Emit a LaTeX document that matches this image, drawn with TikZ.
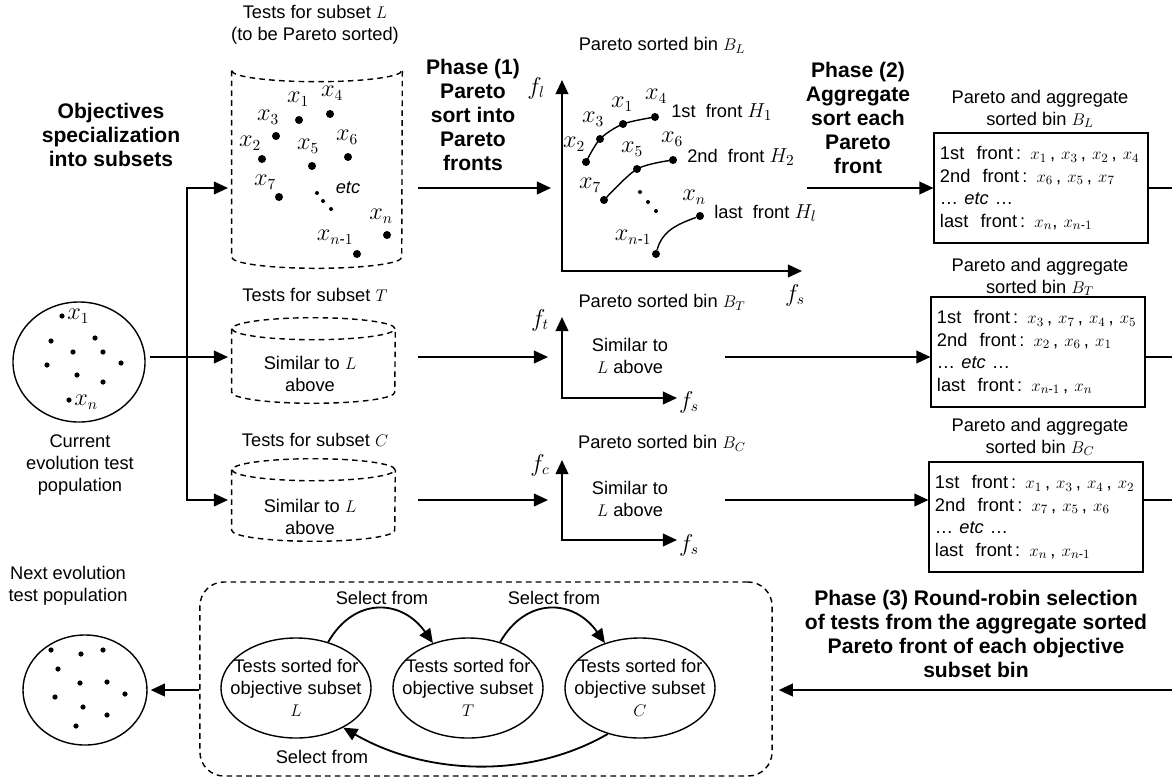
\documentclass[tikz,border=0pt]{standalone}
\usepackage{amsmath}
\usepackage{fontspec}
\setmainfont{Liberation Sans}
\usetikzlibrary{arrows.meta,positioning,shapes.geometric,calc}
\newcommand{\xnm}{x_{n\text{-}1}}

\tikzset{
  txt/.style={font=\fontsize{13}{15.5}\selectfont, align=center, inner sep=0pt},
  mlbl/.style={font=\fontsize{16}{18}\selectfont, inner sep=0pt},
  bold/.style={font=\fontsize{15}{17}\selectfont\bfseries, align=center, inner sep=0pt},
  arr/.style={line width=1.3pt, -{Triangle[length=10pt,width=9pt]}},
  conn/.style={line width=1.3pt},
  axes/.style={line width=1.3pt, {Triangle[length=10pt,width=9pt]}-{Triangle[length=10pt,width=9pt]}},
  bigdot/.style={circle, fill, inner sep=0pt, minimum size=0.2cm},
  popdot/.style={circle, fill, inner sep=0pt, minimum size=0.13cm},
  tinydot/.style={circle, fill, inner sep=0pt, minimum size=0.1cm},
  cyl/.style={line width=1pt, dash pattern=on 4pt off 3pt},
  front/.style={line width=1pt},
  binbox/.style={draw, line width=1.3pt, minimum width=5.3cm, minimum height=2.75cm,
    text width=5.05cm, inner xsep=4pt, align=left, font=\fontsize{13}{16}\selectfont},
  sortell/.style={ellipse, draw, line width=1pt, minimum width=3.75cm, minimum height=2.5cm,
    inner xsep=-0.8cm, inner ysep=-0.3cm, align=center, font=\fontsize{13}{15.5}\selectfont},
}

\begin{document}
\begin{tikzpicture}[x=0.025cm, y=-0.025cm]
\fill[white] (0,0) rectangle (1172,778);
\useasboundingbox (0,0) rectangle (1172,778);

% current population
\node[draw, ellipse, line width=1pt, minimum width=3.3cm, minimum height=3cm] (pop) at (79,362) {};
\foreach \px/\py [count=\i] in {51/341, 95/338, 73/352, 103/352, 47/365, 121/363, 77/375, 103/382}
  \node[popdot] (pd\i) at (\px,\py) {};
\node[popdot] (px1) at (62,316) {};
\node[mlbl, anchor=west] (lx1) at (67,316) {$x_1$};
\node[popdot] (pxn) at (69,400) {};
\node[mlbl, anchor=west] (lxn) at (74,402) {$x_n$};
\node[txt] (poplbl) at (80,465) {Current\\evolution test\\population};

\node[bold] (objlbl) at (111,135) {Objectives\\specialization\\into subsets};

% subset cylinders
\node[minimum width=4.25cm, minimum height=4.65cm, inner sep=0pt] (cylL) at (317,164) {};
\draw[cyl] (cylL.north west) arc[start angle=180, end angle=360, x radius=2.125cm, y radius=0.275cm];
\draw[cyl] (cylL.north west) -- (cylL.south west)
  arc[start angle=180, end angle=360, x radius=2.125cm, y radius=0.275cm] -- (cylL.north east);
\node[txt] (cylLtitle) at (315,25) {Tests for subset $L$\\(to be Pareto sorted)};

\node[minimum width=4.075cm, minimum height=1.575cm, inner sep=0pt] (cylT) at (313.5,360.5) {};
\draw[cyl] (cylT.north) ellipse[x radius=2.0375cm, y radius=0.275cm];
\draw[cyl] (cylT.north west) -- (cylT.south west)
  arc[start angle=180, end angle=360, x radius=2.0375cm, y radius=0.275cm] -- (cylT.north east);
\node[txt] (cylTtitle) at (315,295) {Tests for subset $T$};
\node[txt] (cylTtxt) at (310,374) {Similar to $L$\\above};

\node[minimum width=4.075cm, minimum height=1.5cm, inner sep=0pt] (cylC) at (313.5,500) {};
\draw[cyl] (cylC.north) ellipse[x radius=2.0375cm, y radius=0.275cm];
\draw[cyl] (cylC.north west) -- (cylC.south west)
  arc[start angle=180, end angle=360, x radius=2.0375cm, y radius=0.275cm] -- (cylC.north east);
\node[txt] (cylCtitle) at (315,440) {Tests for subset $C$};
\node[txt] (cylCtxt) at (310,517) {Similar to $L$\\above};

% tests inside cylinder L
\foreach \n/\dx/\dy/\lx/\ly in {1/299/120/298/99, 4/330/114/332/93, 3/276/136/268/117,
    2/262/159/250/143, 5/312/166/308/146, 6/348/157/347/137, 7/279/197/265/182}{
  \node[bigdot] (c\n) at (\dx,\dy) {};
  \node[mlbl] (cl\n) at (\lx,\ly) {$x_{\n}$};
}
\node[bigdot] (cn) at (387,235) {};
\node[mlbl] (cln) at (381,216) {$x_n$};
\node[bigdot] (cnm) at (357,254) {};
\node[mlbl] (clnm) at (335,237) {$\xnm$};
\foreach \dx/\dy [count=\i] in {317/193, 323/201, 331/209}
  \node[tinydot] (ce\i) at (\dx,\dy) {};
\node[txt] (cetc) at (348,188) {\textit{etc}};

% split to subsets
\coordinate (split) at (187,357);
\coordinate (inL) at (228,188);
\coordinate (inT) at (228,357);
\coordinate (inC) at (228,500);
\draw[arr] ($(pop.east |- split)+(4,0)$) -- (inT);
\draw[arr] (split) |- (inL);
\draw[arr] (split) |- (inC);

% phase 1
\node[bold] (ph1) at (473,115) {Phase (1)\\Pareto\\sort into\\Pareto\\fronts};
\coordinate (outL) at (418,188);
\coordinate (outT) at (418,357);
\coordinate (outC) at (418,500);
\draw[arr] (outL) -- (551,188);
\draw[arr] (outT) -- (548,357);
\draw[arr] (outC) -- (548,500);

% Pareto sorted bin L
\coordinate (yL) at (562,80);
\coordinate (xL) at (802,271);
\draw[axes] (yL) |- (xL);
\node[mlbl] (flL) at (536,88) {$f_l$};
\node[mlbl] (fsL) at (795,295) {$f_s$};
\node[txt] (titL) at (662,45) {Pareto sorted bin $B_L$};

\node[bigdot] (a2) at (586,162) {};
\node[bigdot] (a3) at (600,139) {};
\node[bigdot] (a1) at (623,124) {};
\node[bigdot] (a4) at (655,117) {};
\draw[front] plot[smooth] coordinates {(a2) (a3) (a1) (a4)};
\node[mlbl] (la2) at (574,144) {$x_2$};
\node[mlbl] (la3) at (593,119) {$x_3$};
\node[mlbl] (la1) at (622,104) {$x_1$};
\node[mlbl] (la4) at (656,96) {$x_4$};
\node[txt, anchor=west] (h1) at (671,112) {1st\ \ front {\fontsize{15}{17}\selectfont$H_1$}};

\node[bigdot] (b7) at (604,200) {};
\node[bigdot] (b5) at (637,169) {};
\node[bigdot] (b6) at (673,160) {};
\draw[front] plot[smooth] coordinates {(b7) (b5) (b6)};
\node[mlbl] (lb7) at (590,185) {$x_7$};
\node[mlbl] (lb5) at (632,149) {$x_5$};
\node[mlbl] (lb6) at (672,139) {$x_6$};
\node[txt, anchor=west] (h2) at (687,157) {2nd\ \ front {\fontsize{15}{17}\selectfont$H_2$}};

\foreach \dx/\dy [count=\i] in {640/192, 648/202, 656/211}
  \node[tinydot] (fe\i) at (\dx,\dy) {};

\node[bigdot] (bn1) at (656,254) {};
\node[bigdot] (bn) at (700,216) {};
\draw[front] (bn1) to[out=75, in=200] (bn);
\node[mlbl] (lbn) at (694,197) {$x_n$};
\node[mlbl] (lbn1) at (633,237) {$\xnm$};
\node[txt, anchor=west] (hl) at (714,213) {last\ \ front {\fontsize{15}{17}\selectfont$H_l$}};

% Pareto sorted bins T and C
\coordinate (yT) at (562,317);
\coordinate (xT) at (677,398);
\draw[axes] (yT) |- (xT);
\node[mlbl] (ftT) at (540,320) {$f_t$};
\node[mlbl] (fsT) at (689,402) {$f_s$};
\node[txt] (titT) at (662,302) {Pareto sorted bin $B_T$};
\node[txt] (simT) at (630,356) {Similar to\\$L$ above};

\coordinate (yC) at (562,460);
\coordinate (xC) at (677,540);
\draw[axes] (yC) |- (xC);
\node[mlbl] (fcC) at (540,465) {$f_c$};
\node[mlbl] (fsC) at (689,545) {$f_s$};
\node[txt] (titC) at (662,443) {Pareto sorted bin $B_C$};
\node[txt] (simC) at (630,499) {Similar to\\$L$ above};

% phase 2
\node[bold] (ph2) at (858,118) {Phase (2)\\Aggregate\\sort each\\Pareto\\front};

\node[binbox] (binL) at (1041,188) {1st\ \ front\,: $x_1$\,, $x_3$\,, $x_2$\,, $x_4$\\2nd\ \ front\,: $x_6$\,, $x_5$\,, $x_7$\\\dots\ \textit{etc} \dots\\last\ \ front\,: $x_n$, $\xnm$};
\node[txt] (binLt) at (1040,109) {Pareto and aggregate\\sorted bin $B_L$};

\node[binbox] (binT) at (1038,352) {1st\ \ front\,: $x_3$\,, $x_7$\,, $x_4$\,, $x_5$\\2nd\ \ front\,: $x_2$\,, $x_6$\,, $x_1$\\\dots\ \textit{etc} \dots\\last\ \ front\,: $\xnm$\,, $x_n$};
\node[txt] (binTt) at (1040,277) {Pareto and aggregate\\sorted bin $B_T$};

\node[binbox] (binC) at (1036,517) {1st\ \ front\,: $x_1$\,, $x_3$\,, $x_4$\,, $x_2$\\2nd\ \ front\,: $x_7$\,, $x_5$\,, $x_6$\\\dots\ \textit{etc} \dots\\last\ \ front\,: $x_n$\,, $\xnm$};
\node[txt] (binCt) at (1040,437) {Pareto and aggregate\\sorted bin $B_C$};

\coordinate (outPL) at (807,188);
\coordinate (outPT) at (725,357);
\coordinate (outPC) at (725,500);
\draw[arr] (outPL) -- (binL.west);
\draw[arr] (outPT) -- (outPT -| binT.west);
\draw[arr] (outPC) -- (outPC -| binC.west);

\coordinate (rimL) at (1172,188);
\coordinate (rimT) at (1172,357);
\coordinate (rimC) at (1172,500);
\coordinate (rimB) at (1172,690);
\draw[conn] (binL.east) -- (rimL);
\draw[conn] (rimT -| binT.east) -- (rimT);
\draw[conn] (rimC -| binC.east) -- (rimC);

% phase 3
\node[draw, rounded corners=0.6cm, line width=1pt, dash pattern=on 4pt off 3pt,
  minimum width=14.3cm, minimum height=4.85cm] (selbox) at (486,679) {};
\node[sortell] (ellL) at (296,688) {Tests sorted for\\objective subset\\$L$};
\node[sortell] (ellT) at (468,688) {Tests sorted for\\objective subset\\$T$};
\node[sortell] (ellC) at (640,688) {Tests sorted for\\objective subset\\$C$};
\draw[arr] (ellL.55) to[out=60, in=125, looseness=1.3] (ellT.128);
\draw[arr] (ellT.55) to[out=60, in=125, looseness=1.3] (ellC.128);
\draw[arr] (ellC.235) to[out=210, in=-30, looseness=0.9] (ellL.-40);
\node[txt] (selLT) at (382,598) {Select from};
\node[txt] (selTC) at (554,598) {Select from};
\node[txt] (selCL) at (322,757) {Select from};

\node[bold] (ph3) at (976,634) {Phase (3) Round-robin selection\\of tests from the aggregate sorted\\Pareto front of each objective\\subset bin};
\draw[arr] (rimB) -- ($(selbox.east |- rimB)+(6,0)$);

% next population
\node[draw, ellipse, line width=1pt, minimum width=3.1cm, minimum height=2.75cm] (next) at (85,690) {};
\foreach \px/\py [count=\i] in {51/650, 81/654, 103/650, 58/669, 80/683, 107/682, 55/697, 125/694, 83/707, 107/715, 76/726}
  \node[popdot] (nd\i) at (\px,\py) {};
\node[txt] (nextlbl) at (68,586) {Next evolution\\test population};
\draw[arr] (selbox.west |- next) -- ($(next.east)+(3,0)$);
\end{tikzpicture}
\end{document}
